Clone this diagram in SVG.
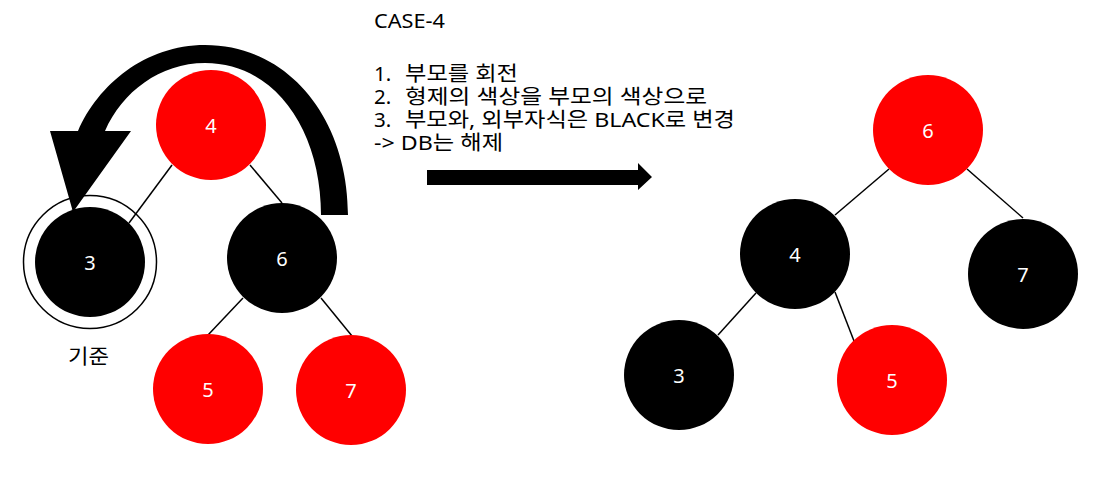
<svg xmlns="http://www.w3.org/2000/svg" width="1119" height="479" viewBox="0 0 1119 479">
<style>
.red{fill:#ff0000}
.blk{fill:#000000}
.lbl{fill:#ffffff;font-family:"Noto Sans","Noto Sans CJK KR",sans-serif;font-size:20px;text-anchor:middle;dominant-baseline:central}
.txt{fill:#000000;font-family:"Noto Sans","Noto Sans CJK KR",sans-serif;font-size:20.5px}
.edge{stroke:#000000;stroke-width:1.5;fill:none}
</style>
<rect width="1119" height="479" fill="#ffffff"/>
<g id="connectors">
<line class="edge" x1="172" y1="165" x2="129" y2="223"/>
<line class="edge" x1="250" y1="165" x2="282" y2="203"/>
<line class="edge" x1="243" y1="298" x2="208" y2="335"/>
<line class="edge" x1="321" y1="298" x2="352" y2="336"/>
<line class="edge" x1="889" y1="169" x2="835" y2="215"/>
<line class="edge" x1="967" y1="169" x2="1023" y2="218"/>
<line class="edge" x1="756" y1="293" x2="718" y2="335"/>
<line class="edge" x1="835" y1="292" x2="854" y2="341"/>
</g>
<g id="rotate-arrow">
<path class="blk" d="M 321 215 L 348 215 C 348 120 290 45 205 45 C 145 45 98 85 78 131 L 50 131 L 73 212 L 131 131 L 105 131 C 122 92 160 63 205 63 C 275 63 321 130 321 215 Z"/>
</g>
<g id="L4"><circle class="red" cx="211" cy="125" r="55"/><text class="lbl" x="211" y="125">4</text></g>
<g id="L3"><circle cx="90" cy="262" r="66.5" fill="none" stroke="#000" stroke-width="1.5"/><circle class="blk" cx="90" cy="262" r="55"/><text class="lbl" x="90" y="262">3</text></g>
<g id="L6"><circle class="blk" cx="282" cy="258" r="55"/><text class="lbl" x="282" y="258">6</text></g>
<g id="L5"><circle class="red" cx="208" cy="389" r="55"/><text class="lbl" x="208" y="389">5</text></g>
<g id="L7"><circle class="red" cx="351" cy="390" r="55"/><text class="lbl" x="351" y="390">7</text></g>
<g id="label-base"><text class="txt" x="68" y="364" textLength="41" lengthAdjust="spacingAndGlyphs">기준</text></g>
<g id="caption">
<text class="txt" x="374" y="28" textLength="71" lengthAdjust="spacingAndGlyphs">CASE-4</text>
<text class="txt"><tspan x="374" y="81">1.</tspan><tspan x="405" y="81" textLength="113" lengthAdjust="spacingAndGlyphs">부모를 회전</tspan><tspan x="374" y="104">2.</tspan><tspan x="405" y="104" textLength="302" lengthAdjust="spacingAndGlyphs">형제의 색상을 부모의 색상으로</tspan><tspan x="374" y="127">3.</tspan><tspan x="405" y="127" textLength="330" lengthAdjust="spacingAndGlyphs">부모와, 외부자식은 BLACK로 변경</tspan><tspan x="374" y="150" textLength="129" lengthAdjust="spacingAndGlyphs">-&gt; DB는 해제</tspan></text>
</g>
<g id="transform-arrow">
<path class="blk" d="M 427 170 L 638 170 L 638 163 L 652 177 L 638 190 L 638 185 L 427 185 Z"/>
</g>
<g id="R6"><circle class="red" cx="928" cy="130" r="55"/><text class="lbl" x="928" y="130">6</text></g>
<g id="R4"><circle class="blk" cx="795" cy="254" r="55"/><text class="lbl" x="795" y="254">4</text></g>
<g id="R7"><circle class="blk" cx="1023" cy="274" r="55"/><text class="lbl" x="1023" y="274">7</text></g>
<g id="R3"><circle class="blk" cx="679" cy="375" r="55"/><text class="lbl" x="679" y="375">3</text></g>
<g id="R5"><circle class="red" cx="892" cy="380" r="55"/><text class="lbl" x="892" y="380">5</text></g>
</svg>
